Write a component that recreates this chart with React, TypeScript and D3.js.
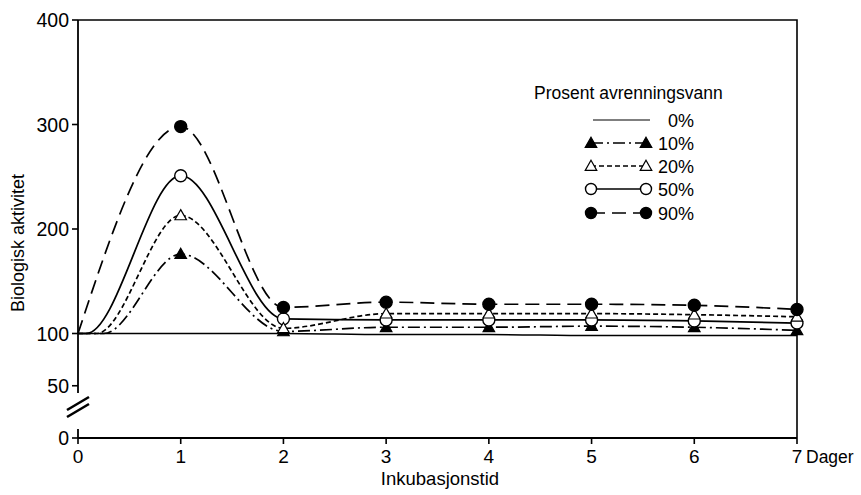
import React, { useEffect, useRef } from 'react';
import * as d3 from 'd3';

// values, days 0..7
const days = [0, 1, 2, 3, 4, 5, 6, 7];
const p0 = [100, 100, 100, 99, 99, 98, 98, 98];
const p10 = [100, 176, 102, 106, 106, 107, 106, 103];
const p20 = [100, 213, 105, 119, 119, 119, 118, 116];
const p50 = [100, 251, 114, 113, 113, 113, 112, 110];
const p90 = [100, 298, 125, 130, 128, 128, 127, 123];
// day where each curve leaves the 100 line
const startDay = [0, 0.25, 0.18, 0.08, 0];

const seriesNames = ['0%', '10%', '20%', '50%', '90%'];
const seriesValues = [p0, p10, p20, p50, p90];
const markerKind = ['none', 'triFilled', 'triOpen', 'circOpen', 'circFilled'];
const dashes = [null, '12,4,2,4', '5,3', null, '14,7'];

const yTicks = [0, 50, 100, 200, 300, 400];
const xTicks = [0, 1, 2, 3, 4, 5, 6, 7];

const FONT = "'Liberation Sans', Arial, sans-serif";

export default function App() {
  const ref = useRef<SVGSVGElement>(null);

  useEffect(() => {
    document.body.style.margin = '0';
    const width = 861;
    const height = 495;
    const svg = d3.select(ref.current);
    svg.selectAll('*').remove();
    svg.attr('width', width).attr('height', height);

    svg.append('rect').attr('width', width).attr('height', height).attr('fill', '#fff');

    const x = d3.scaleLinear().domain([0, 7]).range([78, 797]);
    const y = d3.scaleLinear().domain([0, 400]).range([438, 20]);

    const g = svg.append('g').attr('font-family', FONT).attr('fill', '#000');

    // frame: top and right
    g.append('path')
      .attr('d', `M${x(0)},${y(400)}H${x(7)}V${y(0)}`)
      .attr('fill', 'none')
      .attr('stroke', '#000')
      .attr('stroke-width', 1.6);
    // left axis with break
    g.append('line').attr('x1', x(0)).attr('x2', x(0)).attr('y1', y(400)).attr('y2', 393)
      .attr('stroke', '#000').attr('stroke-width', 1.8);
    g.append('line').attr('x1', x(0)).attr('x2', x(0)).attr('y1', 429).attr('y2', y(0))
      .attr('stroke', '#000').attr('stroke-width', 1.8);
    [0, 7].forEach((o) => {
      g.append('line')
        .attr('x1', 67).attr('y1', 410 + o)
        .attr('x2', 89).attr('y2', 397 + o)
        .attr('stroke', '#000').attr('stroke-width', 2.6);
    });
    // bottom axis
    g.append('line').attr('x1', x(0)).attr('x2', x(7)).attr('y1', y(0)).attr('y2', y(0))
      .attr('stroke', '#000').attr('stroke-width', 1.8);

    yTicks.forEach((t) => {
      g.append('line')
        .attr('x1', x(0) - 6).attr('x2', t === 0 ? x(0) + 6 : x(0))
        .attr('y1', y(t)).attr('y2', y(t))
        .attr('stroke', '#000').attr('stroke-width', 1.6);
      g.append('text')
        .attr('x', x(0) - 9).attr('y', y(t) + 7)
        .attr('text-anchor', 'end').attr('font-size', 19.5)
        .text(t);
    });
    xTicks.forEach((t) => {
      g.append('line')
        .attr('x1', x(t)).attr('x2', x(t))
        .attr('y1', y(0)).attr('y2', y(0) + 6)
        .attr('stroke', '#000').attr('stroke-width', 1.6);
      g.append('text')
        .attr('x', x(t)).attr('y', 463)
        .attr('text-anchor', 'middle').attr('font-size', 19)
        .text(t);
    });
    g.append('text').attr('x', 806).attr('y', 463).attr('font-size', 17.5).text('Dager');
    g.append('text').attr('x', 440).attr('y', 485).attr('text-anchor', 'middle')
      .attr('font-size', 18.5).text('Inkubasjonstid');
    g.append('text')
      .attr('transform', `translate(24,243) rotate(-90)`)
      .attr('text-anchor', 'middle').attr('font-size', 18)
      .text('Biologisk aktivitet');

    const line = d3.line<[number, number]>()
      .x((d) => x(d[0]))
      .y((d) => y(d[1]))
      .curve(d3.curveMonotoneX);

    const drawMarker = (sel: any, kind: string, cx: number, cy: number, r: number) => {
      if (kind === 'circFilled' || kind === 'circOpen') {
        sel.append('circle').attr('cx', cx).attr('cy', cy).attr('r', r)
          .attr('fill', kind === 'circFilled' ? '#000' : '#fff')
          .attr('stroke', '#000').attr('stroke-width', 1.4);
      } else if (kind === 'triFilled' || kind === 'triOpen') {
        const s = r * 1.05;
        sel.append('path')
          .attr('d', `M${cx},${cy - s}L${cx + s},${cy + s * 0.75}L${cx - s},${cy + s * 0.75}Z`)
          .attr('fill', kind === 'triFilled' ? '#000' : '#fff')
          .attr('stroke', '#000').attr('stroke-width', 1.2);
      }
    };

    // curves
    seriesValues.forEach((vals, i) => {
      const pts: [number, number][] = [];
      if (startDay[i] > 0) pts.push([0, vals[0]], [startDay[i], vals[0]]);
      else pts.push([0, vals[0]]);
      days.slice(1).forEach((d, j) => pts.push([d, vals[j + 1]]));
      g.append('path')
        .attr('d', line(pts))
        .attr('fill', 'none')
        .attr('stroke', '#000')
        .attr('stroke-width', i === 0 ? 1.5 : 1.7)
        .attr('stroke-dasharray', dashes[i]);
    });

    // markers, bottom series first
    [1, 3, 2, 4].forEach((i) => {
      days.slice(1).forEach((d, j) => {
        drawMarker(g, markerKind[i], x(d), y(seriesValues[i][j + 1]), i >= 3 ? 6 : 5.5);
      });
    });

    // legend
    const lg = g.append('g');
    lg.append('text').attr('x', 534).attr('y', 99).attr('font-size', 17.5)
      .text('Prosent avrenningsvann');
    const rowY = [120, 143, 166, 189, 213];
    seriesNames.forEach((name, i) => {
      const cy = rowY[i];
      const x1 = i === 0 ? 593 : 591;
      const x2 = i === 0 ? 650 : 646;
      lg.append('line').attr('x1', x1).attr('x2', x2).attr('y1', cy).attr('y2', cy)
        .attr('stroke', '#000').attr('stroke-width', i === 0 ? 1.2 : 1.6)
        .attr('stroke-dasharray', dashes[i]);
      if (markerKind[i] !== 'none') {
        drawMarker(lg, markerKind[i], x1, cy, 5.5);
        drawMarker(lg, markerKind[i], x2, cy, 5.5);
      }
      lg.append('text').attr('x', 694).attr('y', cy + 7)
        .attr('text-anchor', 'end').attr('font-size', 18)
        .text(name);
    });
  }, []);

  return (
    <div id="chartArea">
      <svg ref={ref} style={{ display: 'block' }}></svg>
    </div>
  );
}
